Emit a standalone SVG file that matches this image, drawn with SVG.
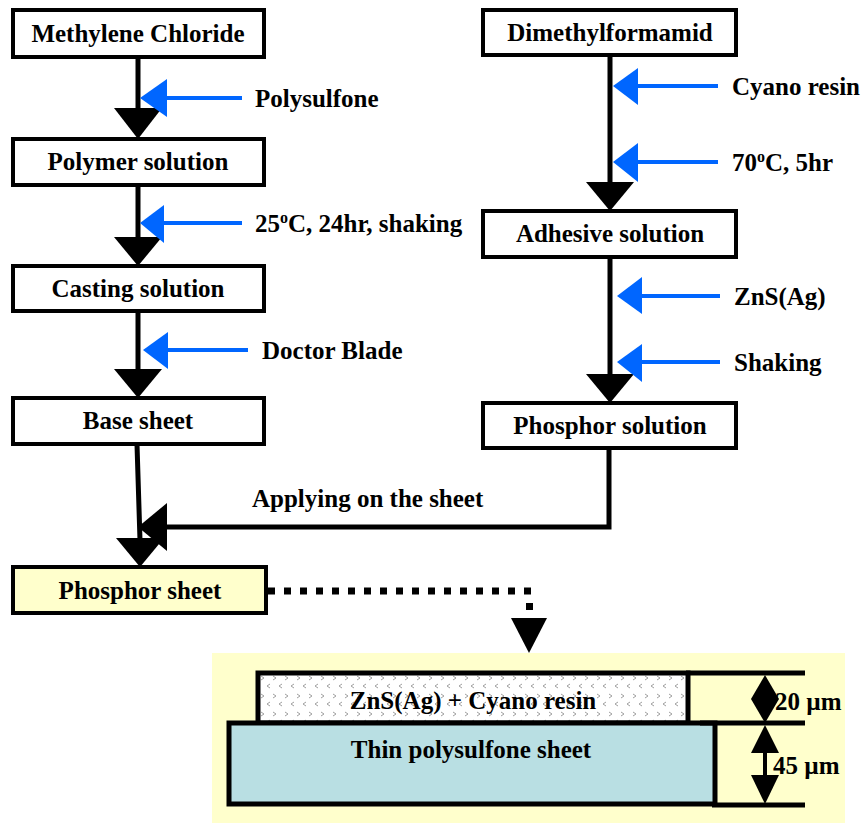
<svg xmlns="http://www.w3.org/2000/svg" width="861" height="823" viewBox="0 0 861 823">
<style>
.box{fill:#fff;stroke:#000;stroke-width:4}
.t{font-family:"Liberation Serif","Times New Roman",serif;font-weight:bold;font-size:25px;fill:#000}
.c{text-anchor:middle}
.ln{stroke:#000;stroke-width:5;fill:none}
.bl{stroke:#0066ff;stroke-width:4;fill:none}
.bh{fill:#0066ff}
.ah{fill:#000}
</style>
<defs>
<pattern id="dots" x="258" y="673" width="24" height="18" patternUnits="userSpaceOnUse">
<rect width="24" height="18" fill="#fff"/>
<path d="M3 3 L6 5 L3 7 M15 3 L18 5 L15 7" stroke="#a0a0a0" stroke-width="1" fill="none"/>
<path d="M12 11 L9 13 L12 15 M24 11 L21 13 L24 15" stroke="#a0a0a0" stroke-width="1" fill="none"/>
</pattern>
</defs>

<g id="connectors">
<line class="ln" x1="138" y1="57" x2="138" y2="110"/>
<polygon class="ah" points="114,108 162,108 138,139"/>
<line class="ln" x1="138" y1="185" x2="138" y2="239"/>
<polygon class="ah" points="114,237 162,237 138,266"/>
<line class="ln" x1="138" y1="311" x2="138" y2="371"/>
<polygon class="ah" points="114,369 162,369 138,398"/>
<line class="ln" x1="137" y1="444" x2="140" y2="540"/>
<polygon class="ah" points="116,538 164,538 140,567"/>
<line class="ln" x1="610" y1="55" x2="610" y2="184"/>
<polygon class="ah" points="586,182 634,182 610,211"/>
<line class="ln" x1="610" y1="257" x2="610" y2="376"/>
<polygon class="ah" points="586,374 634,374 610,403"/>
<polyline class="ln" points="609,448 609,527 165,527"/>
<polygon class="ah" points="167,503 167,551 138,527"/>
<line x1="268" y1="591" x2="533" y2="591" stroke="#000" stroke-width="7" stroke-dasharray="7 9"/>
<rect x="526" y="603" width="7" height="7" fill="#000"/>
<polygon class="ah" points="511,618 547,618 529,653"/>
<line class="bl" x1="165" y1="98" x2="242" y2="98"/>
<polygon class="bh" points="140,98 167,79 167,117"/>
<line class="bl" x1="162" y1="223" x2="242" y2="223"/>
<polygon class="bh" points="140,223 164,205 164,243"/>
<line class="bl" x1="166" y1="350" x2="248" y2="350"/>
<polygon class="bh" points="143,350 168,332 168,369"/>
<line class="bl" x1="636" y1="86" x2="718" y2="86"/>
<polygon class="bh" points="613,86 638,68 638,105"/>
<line class="bl" x1="636" y1="162" x2="718" y2="162"/>
<polygon class="bh" points="613,162 638,143 638,182"/>
<line class="bl" x1="640" y1="296" x2="720" y2="296"/>
<polygon class="bh" points="617,296 642,277 642,314"/>
<line class="bl" x1="640" y1="362" x2="720" y2="362"/>
<polygon class="bh" points="617,362 642,344 642,382"/>
</g>

<g id="labels">
<text class="t" x="255" y="107">Polysulfone</text>
<text class="t" x="255" y="232">25<tspan font-size="16" dy="-9">o</tspan><tspan dy="9">C, 24hr, shaking</tspan></text>
<text class="t" x="262" y="359">Doctor Blade</text>
<text class="t" x="732" y="95">Cyano resin</text>
<text class="t" x="732" y="171">70<tspan font-size="16" dy="-9">o</tspan><tspan dy="9">C, 5hr</tspan></text>
<text class="t" x="734" y="305">ZnS(Ag)</text>
<text class="t" x="734" y="371">Shaking</text>
<text class="t" x="252" y="507">Applying on the sheet</text>
</g>

<g id="methylene-chloride"><rect class="box" x="13" y="10" width="251" height="47"/><text class="t c" x="138" y="42">Methylene Chloride</text></g>
<g id="polymer-solution"><rect class="box" x="13" y="139" width="251" height="46"/><text class="t c" x="138" y="170">Polymer solution</text></g>
<g id="casting-solution"><rect class="box" x="13" y="266" width="251" height="45"/><text class="t c" x="138" y="297">Casting solution</text></g>
<g id="base-sheet"><rect class="box" x="13" y="398" width="251" height="46"/><text class="t c" x="138" y="429">Base sheet</text></g>
<g id="phosphor-sheet"><rect class="box" x="13" y="567" width="253" height="46" style="fill:#ffffcc"/><text class="t c" x="140" y="599">Phosphor sheet</text></g>
<g id="dimethylformamid"><rect class="box" x="483" y="10" width="253" height="45"/><text class="t c" x="610" y="41">Dimethylformamid</text></g>
<g id="adhesive-solution"><rect class="box" x="483" y="211" width="253" height="46"/><text class="t c" x="610" y="242">Adhesive solution</text></g>
<g id="phosphor-solution"><rect class="box" x="483" y="403" width="253" height="45"/><text class="t c" x="610" y="434">Phosphor solution</text></g>

<g id="cross-section">
<rect x="212" y="653" width="633" height="170" fill="#ffffcc"/>
<rect x="258" y="673" width="430" height="50" fill="url(#dots)" stroke="#000" stroke-width="5"/>
<rect x="229" y="723" width="486" height="81" fill="#b9dfe3" stroke="#000" stroke-width="5"/>
<line class="ln" x1="686" y1="673" x2="805" y2="673"/>
<line class="ln" x1="700" y1="723" x2="805" y2="723"/>
<line class="ln" x1="712" y1="805" x2="805" y2="805"/>
<polygon class="ah" points="765,675 779,699 765,723 751,699"/>
<polygon class="ah" points="765,725 779,753 751,753"/>
<line x1="765" y1="752" x2="765" y2="776" stroke="#000" stroke-width="4"/>
<polygon class="ah" points="751,775 779,775 765,804"/>
<text class="t c" x="473" y="709">ZnS(Ag) + Cyano resin</text>
<text class="t c" x="471" y="758">Thin polysulfone sheet</text>
<text class="t" x="775" y="710" font-size="20">20 µm</text>
<text class="t" x="773" y="774" font-size="20">45 µm</text>
</g>
</svg>
